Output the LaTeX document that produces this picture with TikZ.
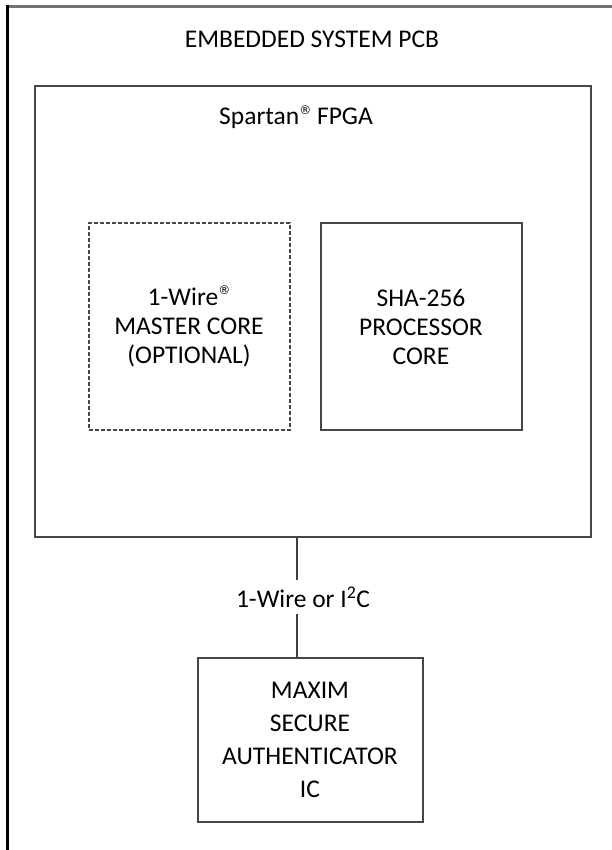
\documentclass[tikz,border=0pt]{standalone}
\usepackage{fontspec}
\setmainfont{Carlito}
\newfontfamily\regfont{DejaVu Sans}
\newcommand{\regmark}{\raisebox{0.85ex}{\regfont\fontsize{12}{12}\selectfont ®}}
\begin{document}
\begin{tikzpicture}[x=1pt,y=-1pt,
  box/.style={draw=black!72, line width=2pt, inner sep=0pt, align=center,
    font=\fontsize{25.5}{29}\selectfont},
  txt/.style={inner sep=0pt, align=center, font=\fontsize{25.5}{29}\selectfont},
  link/.style={draw=black!75, line width=2pt}]
\useasboundingbox (0,0) rectangle (612,850);
% outer PCB border
\draw[black!55, line width=2.4pt] (7,6.5) -- (612,6.5);
\draw[black, line width=2.2pt] (7.5,850) -- (7.5,5.5);
\node[txt] (pcb) at (312,39) {EMBEDDED SYSTEM PCB};
% FPGA
\node[box, minimum width=556pt, minimum height=450pt] (fpga) at (312.5,311.5) {};
\node[txt] (fpgalbl) at (296,117) {Spartan\regmark\ FPGA};
\node[box, dash pattern=on 4pt off 2pt, minimum width=201pt, minimum height=207pt] (master) at (189,326.5)
  {1-Wire\regmark\\MASTER CORE\\(OPTIONAL)};
\node[box, minimum width=201pt, minimum height=207pt] (sha) at (421,326.5)
  {SHA-256\\PROCESSOR\\CORE};
\node[box, minimum width=225pt, minimum height=164pt, font=\fontsize{25.5}{33}\selectfont] (maxim) at (310,740)
  {MAXIM\\SECURE\\AUTHENTICATOR\\IC};
\coordinate (cx) at (297,0);
\draw[link] (fpga.south -| cx) -- (maxim.north -| cx);
\node[txt, fill=white, inner ysep=7pt, inner xsep=2pt] (bus) at (303,597) {1-Wire or I\textsuperscript{2}C};
\end{tikzpicture}
\end{document}
